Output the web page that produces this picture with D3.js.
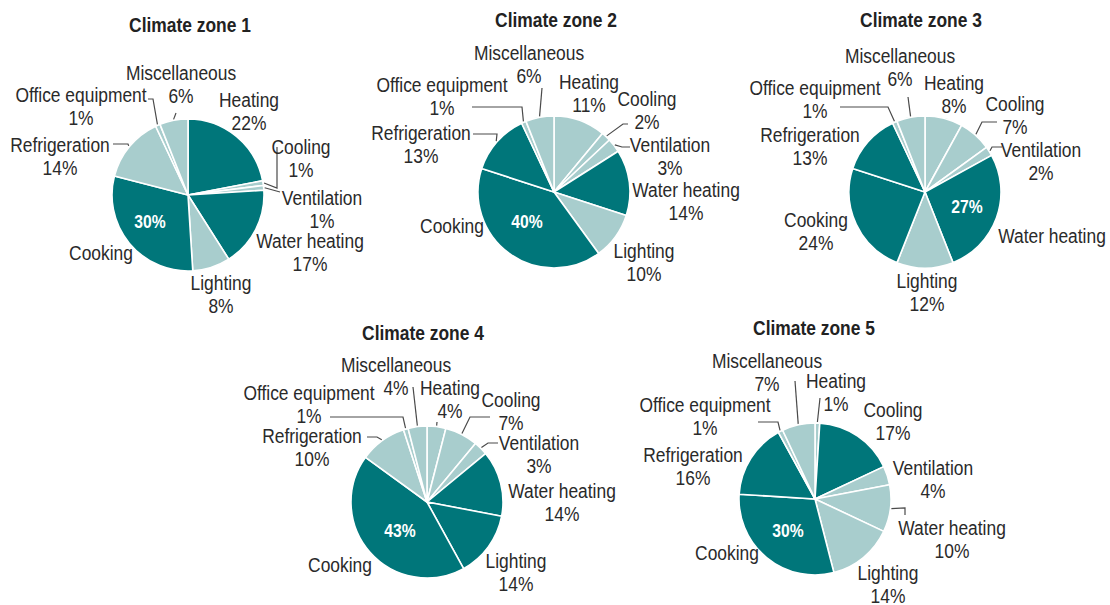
<!DOCTYPE html>
<html><head><meta charset="utf-8">
<script src="https://cdn.jsdelivr.net/npm/d3@7"></script>
<style>
body{margin:0;background:#fff}
text{font-family:"Liberation Sans",Arial,sans-serif}
</style>
</head><body><svg id="c" width="1110" height="605"></svg>
<script>
// ---------- data ----------
const categories = ["Heating","Cooling","Ventilation","Water heating","Lighting","Cooking","Refrigeration","Office equipment","Miscellaneous"];
const zoneTitles = ["Climate zone 1","Climate zone 2","Climate zone 3","Climate zone 4","Climate zone 5"];
const zone1 = [22, 1, 1, 17, 8, 30, 14, 1, 6];
const zone2 = [11, 2, 3, 14, 10, 40, 13, 1, 6];
const zone3 = [8, 7, 2, 27, 12, 24, 13, 1, 6];
const zone4 = [4, 7, 3, 14, 14, 43, 10, 1, 4];
const zone5 = [1, 17, 4, 10, 14, 30, 16, 1, 7];
const zones = [zone1, zone2, zone3, zone4, zone5];

// ---------- layout ----------
const R = 76;
const SX = 0.87; // condensed look
const DARK = "#00767a", LIGHT = "#a8cdcd", TXT = "#2a2a2a", LINE = "#4a4a4a";
const centers = [[188,195],[554,192],[925,192],[427,502],[815,499]];
const titleOffsets = [[2,-163.5],[2,-165],[-4,-165],[-4,-162],[-1,-164]];
const LH = 23;
const labelOffsets = [
  {"Miscellaneous":[-7,-115],"Heating":[61,-88],"Cooling":[113,-41],"Ventilation":[134,10],"Water heating":[122,53],"Lighting":[33,95],"Cooking":[-87,65],"Refrigeration":[-128,-43],"Office equipment":[-107,-93]},
  {"Miscellaneous":[-25,-132],"Heating":[35,-103],"Cooling":[93,-86],"Ventilation":[116,-40],"Water heating":[132,5],"Lighting":[90,66],"Cooking":[-102,41],"Refrigeration":[-133,-52],"Office equipment":[-112,-100]},
  {"Miscellaneous":[-25,-129],"Heating":[29,-102],"Cooling":[90,-81],"Ventilation":[116,-35],"Water heating":[127,51],"Lighting":[2,96],"Cooking":[-109,35],"Refrigeration":[-115,-50],"Office equipment":[-110,-97]},
  {"Miscellaneous":[-31,-130],"Heating":[23,-107],"Cooling":[84,-95],"Ventilation":[112,-52],"Water heating":[135,-4],"Lighting":[89,66],"Cooking":[-87,70],"Refrigeration":[-115,-59],"Office equipment":[-118,-102]},
  {"Miscellaneous":[-48,-131],"Heating":[21,-111],"Cooling":[78,-82],"Ventilation":[118,-24],"Water heating":[137,36],"Lighting":[73,81],"Cooking":[-88,61],"Refrigeration":[-122,-37],"Office equipment":[-110,-87]}
];
const insideOffsets = [[-38,33],[-27,36],[42,21],[-27,35],[-27,38]];
const leaders = [
  {"Cooling":[[89,-48],[89,-7]],"Ventilation":[[92,-3]],"Refrigeration":[[-75,-51],[-60,-51]],"Office equipment":[[-40,-96],[-35,-96]],"Miscellaneous":[[-12,-82]]},
  {"Miscellaneous":[[-12,-104]],"Cooling":[[74,-68],[69,-68]],"Ventilation":[[76,-45],[68,-45]],"Refrigeration":[[-81,-58],[-57,-58]],"Office equipment":[[-82,-85],[-32,-85]]},
  {"Miscellaneous":[[-17,-95]],"Cooling":[[72,-70],[57,-70]],"Ventilation":[[77,-45],[67,-45]],"Office equipment":[[-85,-85],[-37,-85]]},
  {"Miscellaneous":[[-14,-115]],"Heating":[[10,-80]],"Cooling":[[63,-85],[43,-85]],"Ventilation":[[71,-59],[61,-59]],"Refrigeration":[[-60,-65],[-50,-65]],"Office equipment":[[-97,-85],[-24,-85]]},
  {"Miscellaneous":[[-20,-118]],"Heating":[[5,-101]],"Water heating":[[90,16],[90,9]],"Office equipment":[[-57,-77],[-37,-77]]}
];

const svg = d3.select("#c");
const pie = d3.pie().sort(null).value(d => d.value).startAngle(0).endAngle(2*Math.PI);
const arc = d3.arc().innerRadius(0).outerRadius(R);

function addText(g, x, y, lines, opts) {
  const t = g.append("text")
    .attr("transform", `translate(${x},${y}) scale(${SX},1)`)
    .attr("text-anchor","middle")
    .attr("font-size", opts.size)
    .attr("font-weight", opts.weight || "normal")
    .attr("fill", opts.fill);
  lines.forEach((s, i) => {
    t.append("tspan").attr("x", 0).attr("y", i * LH).text(s);
  });
  return t;
}

zones.forEach((vals, zi) => {
  const [cx, cy] = centers[zi];
  const g = svg.append("g").attr("transform", `translate(${cx},${cy})`);
  const data = categories.map((c, i) => ({name: c, value: vals[i]}));
  const sorted = vals.slice().sort((a,b) => b - a);
  const thr = sorted[2];
  const maxV = sorted[0];
  const arcs = pie(data);

  g.selectAll("path.slice").data(arcs).join("path")
    .attr("class","slice")
    .attr("d", arc)
    .attr("fill", d => d.data.value >= thr ? DARK : LIGHT)
    .attr("stroke", "#fff").attr("stroke-width", 1.6).attr("stroke-linejoin","round");

  // title
  addText(g, titleOffsets[zi][0], titleOffsets[zi][1], [zoneTitles[zi]], {size: 20, weight: "bold", fill: "#222"});

  // leader lines
  const lineGen = d3.line();
  arcs.forEach(a => {
    const pts = leaders[zi][a.data.name];
    if (!pts) return;
    const mid = (a.startAngle + a.endAngle) / 2;
    const edge = [Math.sin(mid) * (R + 1), -Math.cos(mid) * (R + 1)];
    g.append("path").attr("d", lineGen(pts.concat([edge])))
      .attr("fill","none").attr("stroke", LINE).attr("stroke-width", 1.2);
  });

  // labels
  arcs.forEach(a => {
    const name = a.data.name;
    const off = labelOffsets[zi][name];
    const isMax = a.data.value === maxV;
    if (!isMax) {
      addText(g, off[0], off[1], [name, a.data.value + "%"], {size: 20, fill: TXT});
    } else {
      addText(g, off[0], off[1], [name], {size: 20, fill: TXT});
      const io = insideOffsets[zi];
      addText(g, io[0], io[1], [a.data.value + "%"], {size: 18, weight: "bold", fill: "#fff"});
    }
  });
});
</script>
</body></html>
